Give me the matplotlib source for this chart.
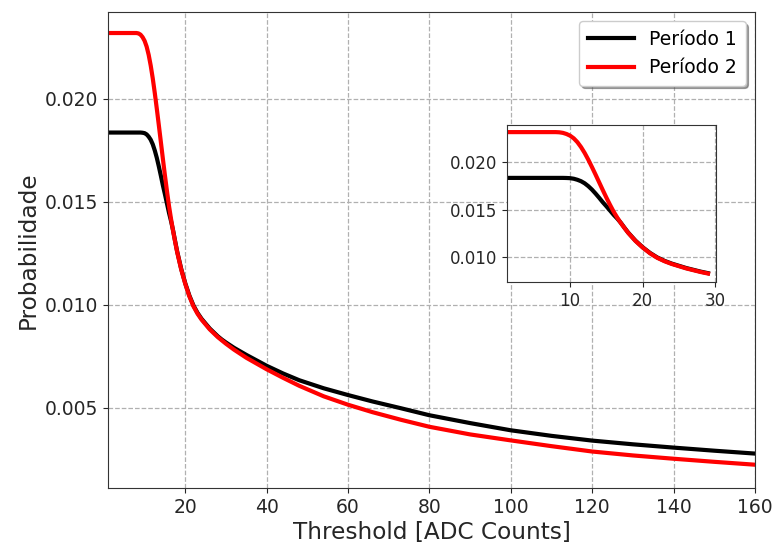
import matplotlib
matplotlib.use("Agg")
import matplotlib.pyplot as plt

# Threshold values [ADC counts]
threshold = [1, 4, 7, 8, 8.5, 9, 9.5, 10, 10.5, 11,
             11.5, 12, 12.5, 13, 13.5, 14, 14.5, 15, 15.5, 16,
             16.5, 17, 17.5, 18, 19, 20, 21, 22, 23, 24,
             26, 28, 29, 30, 32, 35, 40, 44, 48, 54,
             60, 66, 73, 80, 90, 100, 110, 120, 130, 140,
             150, 160]

# Probability for each period
periodo1 = [0.01835, 0.01835, 0.01835, 0.01835, 0.01835, 0.01835, 0.01834, 0.01832, 0.01826, 0.01815,
            0.01800, 0.01778, 0.01748, 0.01712, 0.01670, 0.01625, 0.01578, 0.01535, 0.01490, 0.01445,
            0.01405, 0.01360, 0.01308, 0.01258, 0.01173, 0.01103, 0.01044, 0.00996, 0.00960, 0.00931,
            0.00884, 0.00846, 0.00830, 0.00816, 0.00790, 0.00756, 0.00703, 0.00666, 0.00633, 0.00594,
            0.00561, 0.00530, 0.00497, 0.00463, 0.00425, 0.00390, 0.00363, 0.00340, 0.00322, 0.00306,
            0.00291, 0.00277]
periodo2 = [0.02318, 0.02318, 0.02318, 0.02318, 0.02316, 0.02310, 0.02298, 0.02280, 0.02252, 0.02212,
            0.02160, 0.02098, 0.02027, 0.01950, 0.01870, 0.01788, 0.01706, 0.01626, 0.01550, 0.01478,
            0.01415, 0.01357, 0.01305, 0.01255, 0.01170, 0.01100, 0.01040, 0.00992, 0.00956, 0.00927,
            0.00880, 0.00842, 0.00826, 0.00810, 0.00781, 0.00742, 0.00686, 0.00645, 0.00606, 0.00555,
            0.00514, 0.00478, 0.00441, 0.00407, 0.00370, 0.00341, 0.00313, 0.00287, 0.00268, 0.00252,
            0.00237, 0.00223]

# Low-threshold region shown in the inset
ZOOM_MAX = 29
zoom_t = [t for t in threshold if t <= ZOOM_MAX]
zoom_p1 = periodo1[:len(zoom_t)]
zoom_p2 = periodo2[:len(zoom_t)]

fig = plt.figure(figsize=(7.78, 5.43), dpi=100)
ax = fig.add_axes([0.1388, 0.1013, 0.8316, 0.8766])

grid_kw = dict(color="#b0b0b0", linestyle="--", linewidth=0.9)
text_c = "#262626"

ax.plot(threshold, periodo1, color="black", lw=3, label="Período 1")
ax.plot(threshold, periodo2, color="red", lw=3, label="Período 2")
ax.set_xlim(1, 160)
ax.set_ylim(0.00110, 0.02420)
ax.set_xticks([20, 40, 60, 80, 100, 120, 140, 160])
ax.set_yticks([0.005, 0.010, 0.015, 0.020])
ax.set_yticklabels(["0.005", "0.010", "0.015", "0.020"])
ax.tick_params(labelsize=13.5, colors=text_c)
ax.set_xlabel("Threshold [ADC Counts]", fontsize=16.7, color=text_c, labelpad=3)
ax.set_ylabel("Probabilidade", fontsize=16.7, color=text_c, labelpad=4)
ax.grid(True, **grid_kw)
for s in ax.spines.values():
    s.set_color("#333333")
leg = ax.legend(loc="upper right", fontsize=13.5, fancybox=True, shadow=True,
                framealpha=1.0, handlelength=2.5, borderpad=0.45)

# Zoom on the low-threshold region
ins = fig.add_axes([0.6517, 0.4807, 0.2686, 0.2891])
ins.plot(zoom_t, zoom_p1, color="black", lw=3)
ins.plot(zoom_t, zoom_p2, color="red", lw=3)
ins.set_xlim(1.3, 30.1)
ins.set_ylim(0.00737, 0.02393)
ins.set_xticks([10, 20, 30])
ins.set_yticks([0.010, 0.015, 0.020])
ins.set_yticklabels(["0.010", "0.015", "0.020"])
ins.tick_params(labelsize=12, colors=text_c)
ins.grid(True, **grid_kw)
for s in ins.spines.values():
    s.set_color("#333333")

fig.savefig("out.png", dpi=100)
